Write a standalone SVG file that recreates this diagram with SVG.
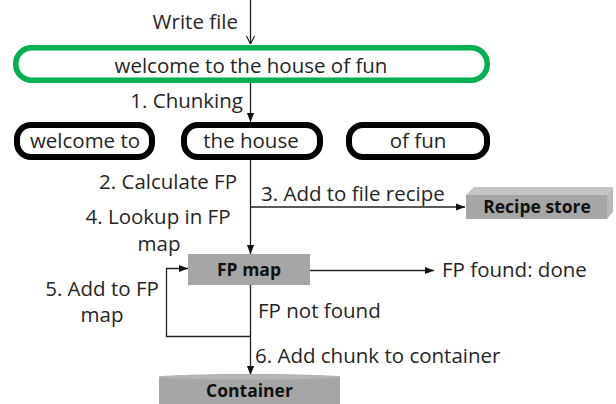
<svg xmlns="http://www.w3.org/2000/svg" width="616" height="404" viewBox="0 0 616 404">
  <defs>
    <marker id="tri" viewBox="0 0 10 10" refX="10" refY="5" markerWidth="9" markerHeight="9" markerUnits="userSpaceOnUse" orient="auto">
      <path d="M0,1 L10,5 L0,9 Z" fill="#111"/>
    </marker>
    <marker id="vee" viewBox="0 0 10 10" refX="10" refY="5" markerWidth="9" markerHeight="9" markerUnits="userSpaceOnUse" orient="auto">
      <path d="M1,0.5 L10,5 L1,9.5" fill="none" stroke="#111" stroke-width="1.2"/>
    </marker>
    <style>
      text { font-family: "Open Sans", "Noto Sans", "Liberation Sans", sans-serif; fill: #262626; font-size: 20.5px; }
      .mid { text-anchor: middle; }
      .end { text-anchor: end; }
      .bold { font-weight: bold; font-size: 17.5px; fill: #111; }
      .pill { fill: #fff; stroke: #000; stroke-width: 6; }
      .file { fill: #fff; stroke: #00b050; stroke-width: 5.5; }
      .store { fill: #a6a6a6; }
      .wire { fill: none; stroke: #222; stroke-width: 1.3; }
    </style>
  </defs>

  <!-- connectors -->
  <g id="connectors">
    <line class="wire" x1="250.5" y1="0" x2="250.5" y2="44" marker-end="url(#vee)"/>
    <line class="wire" x1="250.5" y1="83" x2="250.5" y2="122" marker-end="url(#tri)"/>
    <line class="wire" x1="250.5" y1="160" x2="250.5" y2="254" marker-end="url(#tri)"/>
    <line class="wire" x1="250.5" y1="207" x2="465" y2="207" marker-end="url(#tri)"/>
    <line class="wire" x1="310" y1="270.5" x2="434" y2="270.5" marker-end="url(#tri)"/>
    <line class="wire" x1="250.5" y1="285" x2="250.5" y2="375" marker-end="url(#tri)"/>
    <path class="wire" d="M250.5,336.5 H166.5 V268.5 H188" marker-end="url(#tri)"/>
  </g>

  <!-- edge labels -->
  <g id="labels">
    <text class="end" x="238" y="29">Write file</text>
    <text class="end" x="243" y="108">1. Chunking</text>
    <text class="end" x="237" y="189">2. Calculate FP</text>
    <text x="261" y="201">3. Add to file recipe</text>
    <text class="mid" x="158" y="224">4. Lookup in FP</text>
    <text class="mid" x="159" y="251">map</text>
    <text class="mid" x="102" y="296">5. Add to FP</text>
    <text class="mid" x="102" y="322">map</text>
    <text x="258" y="318">FP not found</text>
    <text x="255" y="363">6. Add chunk to container</text>
    <text x="442" y="277">FP found: done</text>
  </g>

  <g id="file">
    <rect class="file" x="15.75" y="47.75" width="471.5" height="32.5" rx="16"/>
    <text class="mid" x="251" y="73">welcome to the house of fun</text>
  </g>

  <g id="chunk-1">
    <rect class="pill" x="17" y="125" width="135" height="32" rx="14"/>
    <text class="mid" x="85" y="148">welcome to</text>
  </g>
  <g id="chunk-2">
    <rect class="pill" x="184" y="125" width="136" height="32" rx="14"/>
    <text class="mid" x="251" y="148">the house</text>
  </g>
  <g id="chunk-3">
    <rect class="pill" x="349" y="125" width="138" height="32" rx="14"/>
    <text class="mid" x="418" y="148">of fun</text>
  </g>

  <g id="recipe-store">
    <polygon points="466,195 474,187 613,187 607,195" fill="#c4c4c4"/>
    <polygon points="607,195 613,187 613,212 607,219" fill="#b8b8b8"/>
    <rect class="store" x="466" y="195" width="141" height="24"/>
    <text class="mid bold" x="537" y="213">Recipe store</text>
  </g>

  <g id="fp-map">
    <rect class="store" x="188" y="254" width="122" height="31"/>
    <text class="mid bold" x="249" y="276">FP map</text>
  </g>

  <g id="container">
    <path class="store" d="M159,377 A90.5,3 0 0 1 340,377 V404 H159 Z"/>
    <ellipse cx="249.5" cy="377" rx="90.5" ry="2.5" fill="#b4b4b4"/>
    <text class="mid bold" x="249.5" y="397">Container</text>
  </g>
</svg>
